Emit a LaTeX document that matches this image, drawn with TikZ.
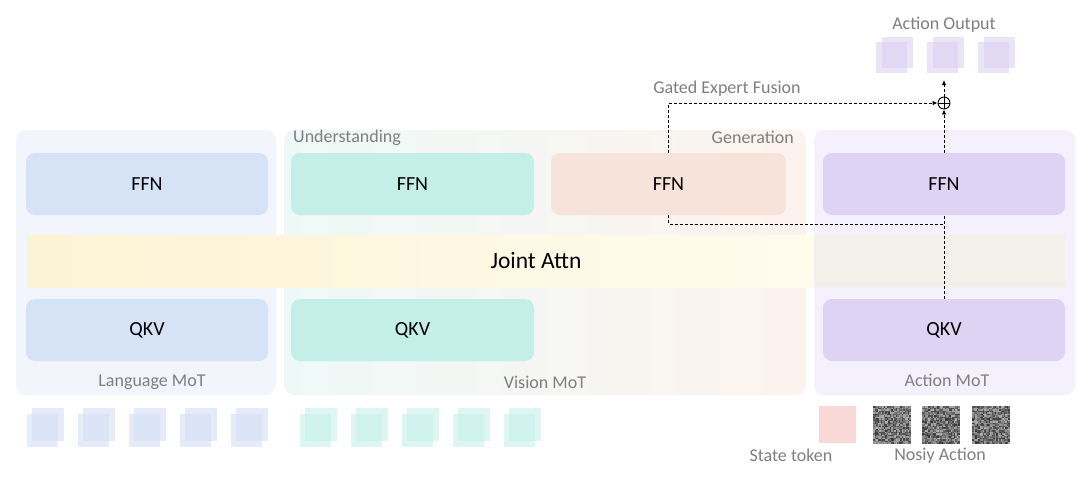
\documentclass[tikz,border=0pt]{standalone}
\usepackage{fontspec}
\setmainfont{Carlito}
\usetikzlibrary{arrows.meta}
\definecolor{langpanel}{HTML}{F2F5FC}
\definecolor{langbox}{HTML}{D6E2F6}
\definecolor{visbox}{HTML}{C4EFE8}
\definecolor{genbox}{HTML}{F7E3DA}
\definecolor{actbox}{HTML}{DFD3F3}
\definecolor{actpanel}{HTML}{F4F1FC}
\definecolor{labgray}{HTML}{7F7F7F}
\definecolor{langtok}{HTML}{D5DFF5}
\definecolor{vistok}{HTML}{C8F0EA}
\definecolor{acttok}{HTML}{DCD2F3}
\definecolor{statetok}{HTML}{F9D9D8}
\definecolor{bandL}{HTML}{FCF3D4}
\definecolor{bandM}{HTML}{FFFEFA}
\definecolor{bandR}{HTML}{FFFCEE}
\definecolor{bandA}{HTML}{F3F0E9}
\definecolor{visL}{HTML}{EEF9F7}
\definecolor{visR}{HTML}{FDF3EE}
\tikzset{
  panel/.style={rounded corners=10pt},
  block/.style={rounded corners=9pt, minimum height=62pt, inner sep=0pt, font=\fontsize{20}{23}\selectfont},
  lab/.style={text=labgray, inner sep=0pt, font=\fontsize{18}{21}\selectfont},
  dashline/.style={draw=black, line width=0.9pt, dash pattern=on 3pt off 2pt},
  tip/.style={-{Latex[length=5pt,width=4.5pt]}},
  tok/.style={opacity=0.6},
}
\begin{document}
\begin{tikzpicture}[x=1pt,y=-1pt]
\useasboundingbox (0,0) rectangle (1080,483);
\fill[white] (0,0) rectangle (1080,483);
% panels
\fill[panel, langpanel] (16,130) rectangle (276,395);
\shade[panel, left color=visL, middle color=white, right color=visR] (284,130) rectangle (806,395);
\fill[panel, actpanel] (814,130) rectangle (1075,395);
% joint attention band
\shade[left color=bandL, middle color=bandM, right color=bandR] (27,235) rectangle (814,287);
\fill[bandA] (814,235) rectangle (1065,287);
\node[inner sep=0pt, font=\fontsize{23.5}{27}\selectfont] (joint) at (536,260) {Joint Attn};
% blocks
\node[block, fill=langbox, minimum width=242pt] (langffn) at (147,184) {FFN};
\node[block, fill=langbox, minimum width=242pt] (langqkv) at (147,330) {QKV};
\node[block, fill=visbox, minimum width=243pt] (visffn) at (412.5,184) {FFN};
\node[block, fill=visbox, minimum width=243pt] (visqkv) at (412.5,330) {QKV};
\node[block, fill=genbox, minimum width=235pt] (genffn) at (668.5,184) {FFN};
\node[block, fill=actbox, minimum width=242pt] (actffn) at (944,184) {FFN};
\node[block, fill=actbox, minimum width=242pt] (actqkv) at (944,330) {QKV};
% labels
\node[lab, anchor=west] (underst) at (293,138) {Understanding};
\node[lab, anchor=east] (gener) at (794,137) {Generation};
\node[lab] (langmot) at (152,382) {Language MoT};
\node[lab] (vismot) at (545,382) {Vision MoT};
\node[lab] (actmot) at (947,380) {Action MoT};
\node[lab] (gated) at (727,89) {Gated Expert Fusion};
\node[lab] (actout) at (944,25) {Action Output};
\node[lab] (statelab) at (791,455) {State token};
\node[lab] (noisylab) at (940,456) {Nosiy Action};
% fusion
\node[circle, draw=black, line width=0.9pt, minimum size=12pt, inner sep=0pt,
  path picture={\draw[black, line width=0.8pt] (path picture bounding box.north) -- (path picture bounding box.south) (path picture bounding box.west) -- (path picture bounding box.east);}] (plus) at (944,103) {};
\coordinate (outtip) at (944,80);
\coordinate (join) at (944,224);
\draw[dashline, tip] (genffn.north) |- (plus.west);
\draw[dashline, tip] (actffn.north) -- (plus.south);
\draw[dashline, tip] (plus.north) -- (outtip);
\draw[dashline] (actqkv.north) -- (actffn.south);
\draw[dashline] (genffn.south) |- (join);
% language tokens
\foreach \x in {27,78,129,180,231}{
  \fill[tok, langtok] (\x+5,408) rectangle (\x+37,441);
  \fill[tok, langtok] (\x,414) rectangle (\x+31,447);
}
% vision tokens
\foreach \x in {300,351,402,453,504}{
  \fill[tok, vistok] (\x+5,408) rectangle (\x+37,441);
  \fill[tok, vistok] (\x,414) rectangle (\x+31,447);
}
% action output tokens
\foreach \x in {876,927,978}{
  \fill[tok, acttok] (\x+6,37) rectangle (\x+37,68);
  \fill[tok, acttok] (\x,42) rectangle (\x+31,73);
}
% state token
\fill[statetok] (819,406) rectangle (856,443);
% noisy action tokens
\pgfmathsetseed{7}
\foreach \x in {873,922,972}{
  \foreach \i in {0,...,24}{
    \foreach \j in {0,...,24}{
      \pgfmathsetmacro\g{int(30+50*rnd)}
      \fill[black!\g] (\x+\i*1.5,406+\j*1.5) rectangle (\x+\i*1.5+1.5,406+\j*1.5+1.5);
    }
  }
}
\end{tikzpicture}
\end{document}
